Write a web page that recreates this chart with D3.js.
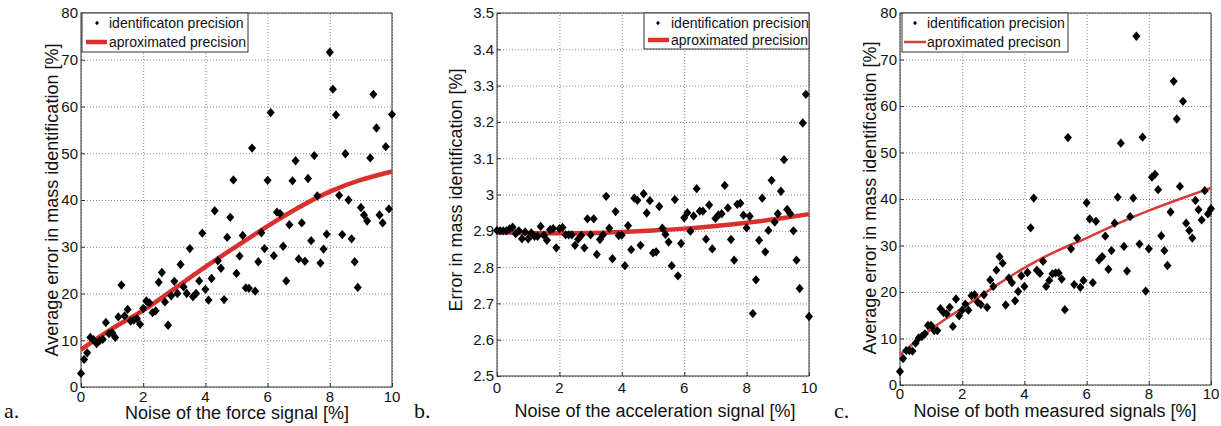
<!DOCTYPE html>
<html><head><meta charset="utf-8">
<script src="https://cdn.jsdelivr.net/npm/d3@7"></script>
<style>
body{margin:0;background:#fff;}
svg{display:block;}
text{font-family:"Liberation Sans",Arial,sans-serif;fill:#111;}
</style></head>
<body><svg id="chart" width="1221" height="426"></svg>
<script>
// ---------- data ----------
const xNoise = [0,0.1,0.2,0.3,0.4,0.5,0.6,0.7,0.8,0.9,1,1.1,1.2,1.3,1.4,1.5,1.6,1.7,1.8,1.9,2,2.1,2.2,2.3,2.4,2.5,2.6,2.7,2.8,2.9,3,3.1,3.2,3.3,3.4,3.5,3.6,3.7,3.8,3.9,4,4.1,4.2,4.3,4.4,4.5,4.6,4.7,4.8,4.9,5,5.1,5.2,5.3,5.4,5.5,5.6,5.7,5.8,5.9,6,6.1,6.2,6.3,6.4,6.5,6.6,6.7,6.8,6.9,7,7.1,7.2,7.3,7.4,7.5,7.6,7.7,7.8,7.9,8,8.1,8.2,8.3,8.4,8.5,8.6,8.7,8.8,8.9,9,9.1,9.2,9.3,9.4,9.5,9.6,9.7,9.8,9.9,10];

const forceError = [2.9,5.9,7.3,10.6,10.1,9.3,9.9,10.2,13.8,11.4,11.6,10.6,15.0,21.8,15.2,16.6,14.1,14.3,14.6,13.4,16.8,18.4,18.0,15.9,16.3,22.4,24.5,18.2,13.2,19.5,22.6,20.0,26.2,21.4,20.0,29.6,19.3,20.0,22.7,32.9,20.9,18.6,23.2,37.7,27.0,25.4,18.7,32.0,36.3,44.3,24.3,28.0,32.4,21.2,21.1,51.1,20.5,26.8,33.0,29.6,44.2,58.7,28.1,37.4,37.1,30.1,22.7,34.7,44.1,48.4,27.4,35.1,26.9,44.6,31.3,49.5,40.9,26.5,29.5,32.7,71.6,63.7,58.2,41.0,32.6,49.9,40.0,31.7,26.8,21.3,38.4,36.8,35.5,49.0,62.6,55.4,36.8,35.1,51.4,38.1,58.3];

const accelError = [2.901,2.900,2.900,2.900,2.905,2.910,2.892,2.900,2.878,2.897,2.878,2.894,2.885,2.885,2.912,2.888,2.874,2.903,2.906,2.853,2.906,2.909,2.889,2.889,2.889,2.860,2.877,2.887,2.853,2.933,2.889,2.933,2.835,2.876,2.889,2.995,2.907,2.823,2.953,2.887,2.888,2.804,2.914,2.848,2.990,2.984,2.860,3.002,2.949,2.983,2.839,2.842,2.967,2.907,2.890,2.869,2.804,2.986,2.776,2.865,2.936,2.950,2.899,2.941,3.016,2.954,2.954,2.877,2.971,2.850,2.934,2.944,2.947,3.025,2.963,2.876,2.819,2.973,2.976,2.943,2.908,2.940,2.672,2.765,2.874,2.990,2.842,2.901,3.039,2.924,2.947,3.009,3.096,2.959,2.947,2.900,2.819,2.741,3.197,3.276,2.664];

const bothError = [2.9,5.7,7.4,7.4,7.3,9.0,10.1,10.4,11.0,12.8,12.8,11.7,11.7,16.4,15.6,15.3,16.7,12.6,18.5,14.9,16.1,17.4,16.1,19.2,19.4,17.8,17.3,19.4,16.7,22.6,21.2,24.7,27.6,26.2,17.2,23.0,22.0,18.1,20.1,23.5,21.2,24.2,33.8,40.2,24.7,24.0,26.6,21.2,22.5,23.9,24.1,24.1,22.8,16.2,53.2,29.3,21.6,31.6,21.0,22.5,39.2,35.7,22.0,35.2,26.9,27.6,32.0,24.9,28.9,34.8,40.4,52.0,29.8,24.5,36.2,40.2,75.0,30.3,53.3,20.2,29.3,44.7,45.3,42.0,32.1,28.9,25.7,37.2,65.3,57.2,42.7,61.0,34.8,33.2,31.6,39.7,37.7,35.5,41.8,36.8,37.9];

const fitX = [0,1,2,3,4,5,6,7,8,9,10];
const forceFit = [8.0,12.5,16.4,21.0,25.7,30.1,34.4,38.4,41.8,44.3,46.1];
const accelFit = [2.896,2.894,2.893,2.894,2.897,2.901,2.906,2.913,2.922,2.933,2.946];
const bothFit  = [6.5,12.0,16.5,21.0,25.2,28.7,31.6,34.7,37.5,40.0,42.4];

const xTicks = [0,2,4,6,8,10];
const xTickLabels = ["0","2","4","6","8","10"];
const yTicksPct = [0,10,20,30,40,50,60,70,80];
const yTickLabelsPct = ["0","10","20","30","40","50","60","70","80"];
const yTicksAcc = [2.5,2.6,2.7,2.8,2.9,3.0,3.1,3.2,3.3,3.4,3.5];
const yTickLabelsAcc = ["2.5","2.6","2.7","2.8","2.9","3","3.1","3.2","3.3","3.4","3.5"];

const panelLetters = ["a.","b.","c."];
const xTitles = ["Noise of the force signal [%]","Noise of the acceleration signal [%]","Noise of both measured signals [%]"];
const yTitles = ["Average error in mass identification [%]","Error in mass identification [%]","Average error in mass identification [%]"];
const legendPoints = ["identificaton precision","identification precision","identification precision"];
const legendLines = ["aproximated precision","aproximated precision","aproximated precison"];

// ---------- layout ----------
const svg = d3.select("#chart");
svg.append("rect").attr("width",1221).attr("height",426).attr("fill","#fff");

const panels = [
  {L:81,R:392,T:13,B:387, ys:forceError, fit:forceFit, yd:[0,80], yt:yTicksPct, yl:yTickLabelsPct,
   lw:4.5, lc:"#d9302e", xtY:402, titleY:419, titleX:237, ytX:58, ytY:200,
   letterX:4, letterY:418, leg:{x:82,y:13,w:166,h:39,mx:97,tx:109,l1:86,l2:107,r1:23,r2:42}},
  {L:497,R:809,T:13,B:376, ys:accelError, fit:accelFit, yd:[2.5,3.5], yt:yTicksAcc, yl:yTickLabelsAcc,
   lw:4.5, lc:"#d9302e", xtY:393, titleY:417, titleX:655, ytX:462, ytY:190,
   letterX:414, letterY:418, leg:{x:644,y:13,w:165,h:36,mx:658,tx:671,l1:648,l2:669,r1:23,r2:40}},
  {L:900,R:1211,T:13,B:385, ys:bothError, fit:bothFit, yd:[0,80], yt:yTicksPct, yl:yTickLabelsPct,
   lw:2.5, lc:"#dc3a3a", xtY:399, titleY:417, titleX:1055, ytX:876, ytY:198,
   letterX:834, letterY:418, leg:{x:902,y:13,w:166,h:39,mx:915,tx:927,l1:904,l2:926,r1:23,r2:42}}
];

const diamond = {draw(ctx,size){const w=Math.sqrt(size)*0.62,h=Math.sqrt(size)*0.72;ctx.moveTo(0,-h);ctx.lineTo(w,0);ctx.lineTo(0,h);ctx.lineTo(-w,0);ctx.closePath();}};

panels.forEach((p,i)=>{
  const g = svg.append("g");
  const x = d3.scaleLinear().domain([0,10]).range([p.L,p.R]);
  const y = d3.scaleLinear().domain(p.yd).range([p.B,p.T]);
  const W = p.R-p.L, H = p.B-p.T;

  // grid
  g.append("g").attr("transform",`translate(0,${p.B})`)
    .call(d3.axisBottom(x).tickValues(xTicks).tickSize(-H).tickFormat(""))
    .call(s=>{s.select(".domain").remove();s.selectAll("line").attr("stroke","#8a8a8a").attr("stroke-dasharray","1,2");});
  g.append("g").attr("transform",`translate(${p.L},0)`)
    .call(d3.axisLeft(y).tickValues(p.yt).tickSize(-W).tickFormat(""))
    .call(s=>{s.select(".domain").remove();s.selectAll("line").attr("stroke","#8a8a8a").attr("stroke-dasharray","1,2");});

  // inner ticks
  g.append("g").attr("transform",`translate(0,${p.B})`)
    .call(d3.axisBottom(x).tickValues(xTicks).tickSize(-4).tickFormat(""))
    .call(s=>{s.select(".domain").remove();s.selectAll("line").attr("stroke","#333");});
  g.append("g").attr("transform",`translate(${p.L},0)`)
    .call(d3.axisLeft(y).tickValues(p.yt).tickSize(-4).tickFormat(""))
    .call(s=>{s.select(".domain").remove();s.selectAll("line").attr("stroke","#333");});

  // frame
  g.append("rect").attr("x",p.L).attr("y",p.T).attr("width",W).attr("height",H)
    .attr("fill","none").attr("stroke","#333").attr("stroke-width",1);

  // tick labels
  g.append("g").selectAll("text").data(xTicks).join("text")
    .attr("x",d=>x(d)).attr("y",p.xtY).attr("text-anchor","middle")
    .attr("font-size",15).text((d,k)=>xTickLabels[k]);
  g.append("g").selectAll("text").data(p.yt).join("text")
    .attr("x",p.L-3).attr("y",d=>y(d)).attr("dy","0.36em").attr("text-anchor","end")
    .attr("font-size",15).text((d,k)=>p.yl[k]);

  // fit line
  g.append("path").datum(fitX.map((d,k)=>[d,p.fit[k]]))
    .attr("d",d3.line().x(d=>x(d[0])).y(d=>y(d[1])).curve(d3.curveNatural))
    .attr("fill","none").attr("stroke",p.lc).attr("stroke-width",p.lw);

  // points
  g.append("g").selectAll("path").data(xNoise.map((d,k)=>[d,p.ys[k]])).join("path")
    .attr("transform",d=>`translate(${x(d[0])},${y(d[1])})`)
    .attr("d",d3.symbol().type(diamond).size(42)).attr("fill","#000");

  // titles
  g.append("text").attr("x",p.titleX).attr("y",p.titleY).attr("text-anchor","middle")
    .attr("font-size",18).text(xTitles[i]);
  g.append("text").attr("transform",`translate(${p.ytX},${p.ytY}) rotate(-90)`)
    .attr("text-anchor","middle").attr("font-size",18).text(yTitles[i]);
  g.append("text").attr("x",p.letterX).attr("y",p.letterY)
    .style("font-family","'Liberation Serif','Times New Roman',serif").attr("font-size",22).text(panelLetters[i]);

  // legend
  const lg = p.leg;
  const leg = g.append("g");
  leg.append("rect").attr("x",lg.x).attr("y",lg.y).attr("width",lg.w).attr("height",lg.h)
    .attr("fill","#fff").attr("stroke","#333").attr("stroke-width",1);
  leg.append("path").attr("transform",`translate(${lg.mx},${lg.y+lg.r1-13})`)
    .attr("d",d3.symbol().type(diamond).size(10)).attr("fill","#000");
  leg.append("text").attr("x",lg.tx).attr("y",lg.y+lg.r1-13).attr("dy","0.36em")
    .attr("font-size",14).text(legendPoints[i]);
  leg.append("line").attr("x1",lg.l1).attr("x2",lg.l2).attr("y1",lg.y+lg.r2-13).attr("y2",lg.y+lg.r2-13)
    .attr("stroke",p.lc).attr("stroke-width",p.lw);
  leg.append("text").attr("x",lg.tx).attr("y",lg.y+lg.r2-13).attr("dy","0.36em")
    .attr("font-size",14).text(legendLines[i]);
});
</script></body></html>
